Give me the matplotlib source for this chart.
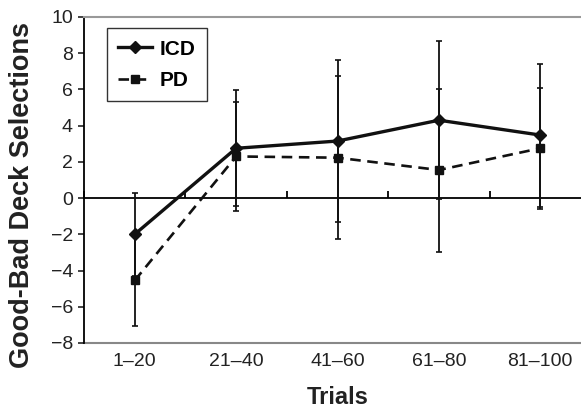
import matplotlib.pyplot as plt

plt.rcParams["font.family"] = ["Liberation Sans", "DejaVu Sans"]

# Дані
trials = ["1–20", "21–40", "41–60", "61–80", "81–100"]
icd_mean = [-2.0, 2.75, 3.15, 4.3, 3.48]
icd_err = [2.3, 3.2, 4.45, 4.35, 3.95]
pd_mean = [-4.55, 2.3, 2.23, 1.55, 2.75]
pd_err = [2.5, 3.0, 4.5, 4.5, 3.35]

x = list(range(len(trials)))

fig = plt.figure(figsize=(5.81, 4.11), dpi=100)
ax = fig.add_axes([0.1446, 0.1655, 0.8726, 0.7932])

icd = ax.errorbar(x, icd_mean, yerr=icd_err, color="#111111", lw=2.4,
                  marker="D", ms=6.5, elinewidth=1.3, capsize=2.5,
                  capthick=1.2, zorder=3)
pd = ax.errorbar(x, pd_mean, yerr=pd_err, color="#111111", lw=1.9,
                 ls=(0, (4, 2.5)), marker="s", ms=6, elinewidth=1.3,
                 capsize=2.5, capthick=1.2, zorder=3)

ax.set_xlim(-0.5, len(trials) - 0.5)
ax.set_ylim(-8, 10)
ax.set_yticks(range(-8, 11, 2))
ax.set_yticklabels([str(v).replace("-", "\u2212") for v in range(-8, 11, 2)])
ax.tick_params(axis="y", labelsize=14, length=4, width=1.2, pad=4,
               colors="#222222")

# Вісь X проходить через нуль, поділки між категоріями
ax.spines["bottom"].set_position(("data", 0))
ax.spines["bottom"].set_linewidth(1.3)
ax.set_xticks([i - 0.5 for i in range(len(trials) + 1)])
ax.set_xticklabels([])
ax.tick_params(axis="x", direction="in", length=5, width=1.3)

# Підписи категорій внизу
sec = ax.secondary_xaxis(location=0)
sec.set_xticks(x)
sec.set_xticklabels(trials)
sec.tick_params(length=0, labelsize=14, pad=7, colors="#222222")
sec.spines["bottom"].set_color("#888888")
sec.spines["bottom"].set_linewidth(1.5)

ax.spines["left"].set_linewidth(1.3)
ax.spines["top"].set_color("#999999")
ax.spines["top"].set_linewidth(1.5)
ax.spines["right"].set_visible(False)

fig.text(22 / 581, 1 - 195 / 411, "Good-Bad Deck Selections", fontsize=19.5,
         fontweight="bold", rotation=90, ha="center", va="center",
         color="#222222")
fig.text(338 / 581, 1 - 397 / 411, "Trials", fontsize=17, fontweight="bold",
         ha="center", va="center", color="#222222")

leg = ax.legend([icd.lines[0], pd.lines[0]], ["ICD", "PD"],
                loc="upper left", bbox_to_anchor=(0.045, 0.966),
                borderaxespad=0, fancybox=False, edgecolor="black",
                handlelength=1.6, handletextpad=0.4,
                prop={"weight": "bold", "size": 15}, borderpad=0.55,
                labelspacing=0.6)
leg.get_frame().set_linewidth(1.0)

fig.savefig("out.png", dpi=100)
